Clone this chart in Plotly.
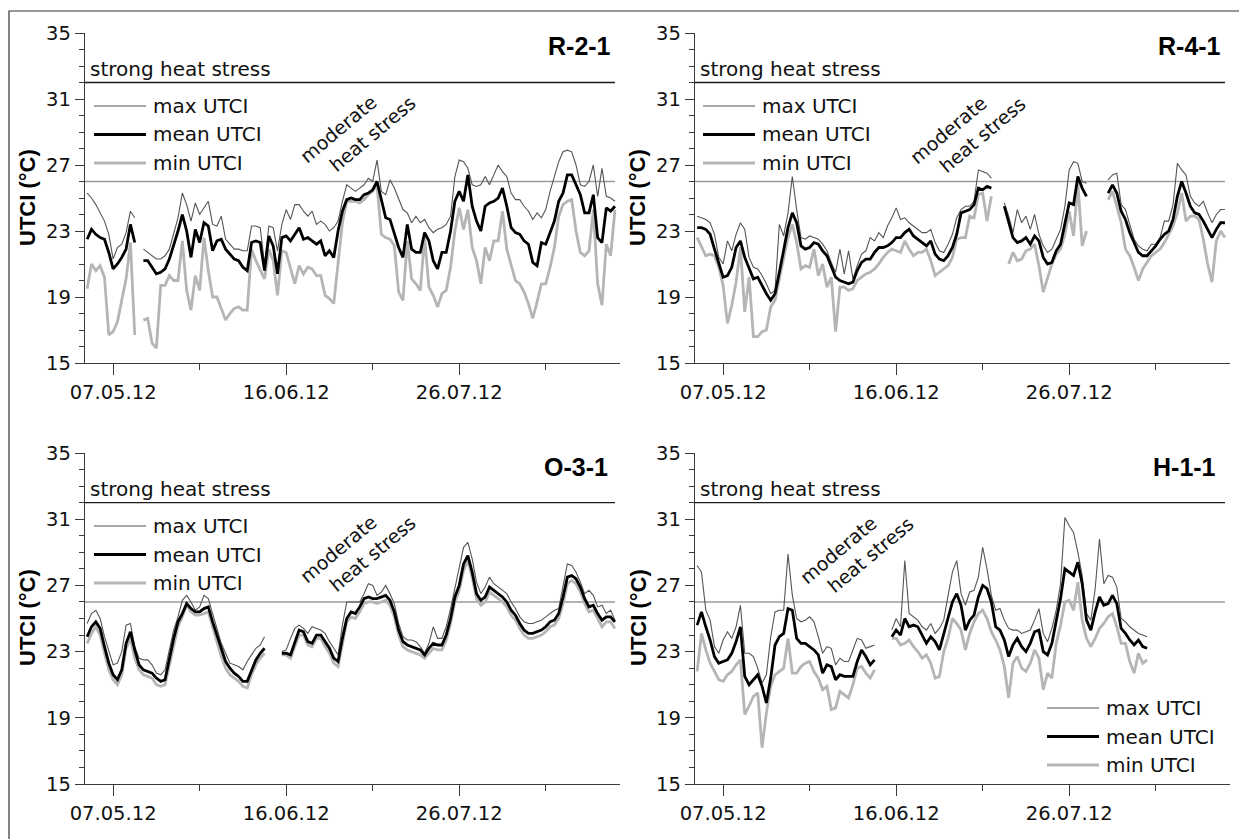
import plotly.graph_objects as go
import pandas as pd

# page body keeps an 8px margin, so the figure is sized to fit the 1247x839 window
OFF = 8
W, H = 1247 - OFF, 839 - OFF

# ---------------- data ----------------
DATES = pd.date_range("2012-05-01", "2012-08-31", freq="D")   # 123 daily values
X_RANGE = ["2012-04-30 12:00", "2012-09-01 04:00"]
MAJOR_TICKS = ["2012-05-07", "2012-06-16", "2012-07-26"]
MAJOR_LABELS = ["07.05.12", "16.06.12", "26.07.12"]
MINOR_TICKS = ["2012-05-27", "2012-07-06", "2012-08-15"]
Y_TICKS = [15, 19, 23, 27, 31, 35]
STRONG = 32      # strong heat stress threshold (°C)
MODERATE = 26    # moderate heat stress threshold (°C)
STATIONS = ["R-2-1", "R-4-1", "O-3-1", "H-1-1"]
N = None

r21_max = [25.3, 25.0, 24.6, 24.1, 23.6, 22.8, 21.3, 22.0, 22.2, 22.9,
           24.2, 23.8, N, 21.9, 21.7, 21.5, 21.3, 21.3, 21.5, 21.9,
           22.8, 23.8, 25.3, 24.6, 23.6, 24.7, 24.0, 24.4, 24.8, 23.4,
           23.3, 23.9, 22.5, 22.2, 21.9, 21.9, 21.8, 21.8, 23.3, 23.3,
           23.2, 21.0, 23.3, 23.2, 21.8, 23.4, 24.3, 23.7, 24.6, 24.6,
           24.2, 23.9, 24.2, 23.4, 23.6, 23.4, 23.0, 23.2, 23.6, 24.8,
           25.8, 25.6, 25.4, 25.6, 25.8, 26.2, 26.0, 27.3, 25.4, 25.2,
           26.1, 25.6, 24.9, 24.3, 24.1, 23.5, 23.9, 23.5, 23.7, 23.2,
           22.9, 23.1, 23.2, 23.4, 23.9, 26.3, 27.3, 27.2, 26.8, 25.8,
           25.7, 25.8, 26.3, 25.8, 26.4, 27.0, 26.6, 26.3, 25.3, 24.9,
           24.9, 24.5, 24.2, 23.7, 24.1, 23.8, 24.3, 25.4, 26.3, 27.2,
           27.8, 27.9, 27.8, 27.0, 25.8, 25.7, 26.0, 27.0, 25.1, 26.8,
           25.1, 25.0, 24.8]
r21_mean = [22.5, 23.1, 22.8, 22.6, 22.5, 21.7, 20.7, 21.0, 21.4, 21.9,
            23.4, 22.3, N, 21.2, 21.2, 20.8, 20.4, 20.5, 20.7, 21.3,
            22.1, 23.0, 24.0, 23.0, 21.4, 23.1, 22.3, 23.5, 23.3, 21.8,
            22.4, 22.5, 21.9, 21.6, 21.3, 21.2, 20.8, 20.6, 22.3, 22.4,
            22.3, 20.6, 22.7, 22.1, 20.4, 22.6, 22.7, 22.4, 22.8, 23.2,
            22.5, 22.6, 22.4, 22.2, 22.4, 21.5, 21.8, 21.4, 23.0, 24.2,
            24.9, 25.0, 24.9, 24.9, 25.2, 25.3, 25.5, 26.0, 24.9, 23.8,
            23.7, 22.8, 22.0, 21.4, 23.4, 21.9, 21.7, 21.7, 22.9, 22.4,
            21.2, 20.7, 21.7, 21.7, 23.0, 24.8, 25.4, 24.8, 26.4, 24.5,
            23.6, 23.0, 24.5, 24.7, 24.8, 25.0, 25.6, 24.5, 23.2, 22.9,
            22.8, 22.4, 22.2, 21.1, 20.9, 22.3, 22.2, 22.9, 23.6, 24.8,
            25.3, 26.4, 26.4, 25.8, 25.2, 24.1, 24.1, 25.2, 22.6, 22.3,
            24.4, 24.2, 24.5]
r21_min = [19.5, 21.0, 20.6, 20.9, 20.2, 16.7, 16.9, 17.5, 18.8, 20.1,
           22.3, 16.7, N, 17.6, 17.7, 16.2, 15.9, 19.7, 19.7, 20.3,
           20.0, 20.0, 22.4, 19.4, 18.2, 20.3, 19.4, 22.6, 20.6, 19.0,
           19.0, 18.3, 17.6, 18.0, 18.3, 18.4, 18.2, 18.2, 21.9, 21.2,
           20.6, 20.1, 21.9, 21.2, 19.1, 21.8, 21.7, 20.8, 19.8, 20.9,
           20.4, 20.8, 20.7, 20.3, 20.3, 19.1, 18.9, 18.6, 20.9, 23.5,
           24.8, 24.8, 24.8, 24.7, 24.9, 25.2, 25.4, 25.8, 22.8, 22.6,
           22.5, 22.1, 19.3, 18.8, 22.4, 20.1, 19.8, 19.4, 22.6, 19.6,
           19.1, 18.4, 19.2, 19.4, 20.8, 23.0, 24.4, 23.1, 24.3, 22.0,
           21.2, 19.8, 22.0, 21.2, 22.4, 22.4, 24.2, 21.9, 20.9, 20.0,
           19.8, 19.3, 18.6, 17.7, 18.7, 19.8, 19.8, 20.8, 22.0, 23.9,
           24.6, 24.8, 24.9, 23.0, 21.7, 21.5, 21.8, 24.3, 19.8, 18.5,
           22.2, 21.5, 24.3]

r41_max = [23.9, 23.8, 23.7, 23.5, 22.8, 21.4, 21.0, 22.4, 21.8, 22.8,
           23.5, 23.1, 21.4, 20.8, 20.7, 20.3, 19.8, 19.2, 19.4, 23.4,
           22.7, 24.1, 26.3, 24.3, 22.6, 22.5, 22.7, 22.6, 22.5, 22.2,
           21.8, 21.1, 20.5, 21.9, 20.4, 21.8, 20.1, 20.9, 21.6, 21.8,
           22.6, 22.4, 22.9, 22.6, 23.3, 23.8, 24.4, 23.7, 23.8, 23.5,
           23.3, 23.1, 22.9, 22.9, 23.1, 22.3, 21.8, 21.7, 22.2, 22.8,
           23.8, 24.3, 24.5, 24.5, 24.8, 26.7, 26.6, 26.5, 26.2, N,
           N, 24.7, 23.9, 22.9, 24.3, 23.5, 23.9, 23.1, 24.0, 22.8,
           22.1, 21.7, 21.9, 22.5, 23.1, 24.5, 26.7, 27.2, 27.1, 26.0,
           25.9, N, N, N, N, 26.1, 26.4, 26.5, 24.6, 24.3,
           23.4, 22.5, 22.1, 21.9, 21.8, 22.2, 22.2, 22.6, 23.6, 23.6,
           24.6, 27.1, 26.7, 26.4, 25.1, 24.7, 24.5, 24.8, 24.1, 23.5,
           24.0, 24.3, 24.3]
r41_mean = [23.2, 23.2, 23.1, 22.8, 21.9, 21.0, 20.2, 20.3, 20.8, 22.0,
            22.4, 21.4, 20.8, 20.1, 20.2, 19.7, 19.2, 18.8, 19.2, 20.5,
            21.8, 23.2, 24.1, 23.5, 22.1, 21.9, 22.0, 22.3, 22.2, 21.8,
            21.5, 20.8, 20.2, 20.0, 19.9, 19.8, 19.9, 20.6, 21.1, 21.3,
            21.3, 21.7, 22.0, 22.0, 22.1, 22.3, 22.6, 22.6, 22.9, 23.1,
            22.7, 22.5, 22.3, 22.1, 22.4, 21.6, 21.3, 21.2, 21.5, 22.0,
            22.8, 24.1, 24.2, 24.3, 24.6, 25.6, 25.5, 25.7, 25.6, N,
            N, 24.5, 23.5, 22.6, 22.3, 22.4, 22.6, 22.2, 22.7, 22.4,
            21.4, 21.0, 21.1, 21.8, 22.2, 23.4, 24.7, 24.6, 26.3, 25.6,
            25.1, N, N, N, N, 25.3, 25.8, 25.3, 24.2, 23.7,
            22.9, 22.3, 21.7, 21.5, 21.5, 21.8, 22.1, 22.5, 22.8, 23.0,
            23.7, 25.1, 26.0, 25.3, 24.5, 24.1, 24.0, 23.6, 23.1, 22.6,
            23.1, 23.5, 23.5]
r41_min = [22.6, 22.0, 21.5, 21.6, 21.5, 20.8, 19.7, 17.4, 18.5, 19.9,
           22.0, 18.1, 20.2, 16.6, 16.6, 16.9, 17.0, 18.4, 18.8, 20.1,
           21.4, 22.6, 23.4, 22.3, 20.7, 20.9, 20.8, 21.9, 20.3, 21.0,
           19.6, 20.2, 16.9, 19.6, 19.6, 19.4, 19.5, 20.0, 20.2, 20.4,
           20.5, 20.7, 21.0, 21.4, 21.7, 21.9, 21.8, 21.7, 22.4, 21.9,
           21.5, 21.7, 21.7, 21.9, 21.2, 20.3, 20.5, 20.7, 20.9, 21.4,
           22.5, 22.6, 22.6, 23.9, 23.8, 25.2, 25.3, 23.6, 25.1, N,
           N, N, 21.0, 21.7, 21.2, 21.3, 21.8, 21.9, 22.2, 20.9,
           19.3, 20.1, 21.0, 21.6, 21.9, 22.8, 24.2, 22.7, 25.9, 22.1,
           23.0, N, N, N, N, 24.9, 25.4, 24.5, 23.5, 21.9,
           21.5, 20.8, 20.0, 20.7, 21.1, 21.5, 21.7, 21.9, 22.3, 22.8,
           23.3, 24.1, 25.3, 23.6, 23.9, 23.9, 23.7, 22.5, 21.0, 19.9,
           22.4, 23.0, 22.6]

o31_max = [24.7, 25.3, 25.5, 25.0, 23.9, 23.0, 22.2, 22.3, 23.0, 24.6,
           24.7, 23.3, 22.6, 22.5, 22.5, 22.2, 21.7, 21.6, 21.9, 23.1,
           24.3, 25.1, 26.1, 26.4, 26.0, 25.5, 25.7, 26.4, 26.2, 25.3,
           24.4, 23.5, 22.9, 22.3, 22.2, 22.1, 21.9, 22.4, 22.8, 23.2,
           23.4, 23.9, N, N, N, 23.0, 23.1, 23.8, 24.4, 24.6,
           24.4, 24.1, 24.5, 24.4, 24.3, 24.1, 23.6, 23.2, 22.8, 24.6,
           26.0, 26.0, 26.0, 26.0, 26.5, 27.1, 27.0, 26.4, 26.6, 27.0,
           26.5, 25.9, 24.7, 23.9, 23.7, 23.7, 23.6, 23.3, 22.9, 23.5,
           24.5, 23.8, 23.8, 24.5, 25.6, 26.9, 28.1, 29.3, 29.6, 28.6,
           27.2, 26.5, 26.9, 27.5, 27.1, 26.9, 26.7, 26.5, 26.0, 25.6,
           25.1, 24.8, 24.7, 24.7, 24.8, 24.9, 25.1, 25.3, 25.5, 25.6,
           27.0, 28.3, 28.2, 27.8, 27.2, 26.5, 26.7, 26.4, 25.7, 25.8,
           25.3, 25.5, 24.9]
o31_mean = [23.9, 24.5, 24.8, 24.4, 23.3, 22.3, 21.6, 21.3, 21.9, 23.5,
            24.2, 23.1, 22.2, 21.9, 21.8, 21.7, 21.4, 21.2, 21.3, 22.6,
            23.8, 24.8, 25.3, 25.9, 25.6, 25.4, 25.4, 25.6, 25.7, 24.8,
            24.0, 23.1, 22.4, 22.0, 21.7, 21.5, 21.2, 21.2, 21.9, 22.5,
            22.9, 23.2, N, N, N, 22.9, 22.9, 22.8, 23.5, 24.3,
            24.2, 23.6, 23.5, 24.0, 24.0, 23.6, 23.2, 22.6, 22.4, 23.8,
            25.0, 25.4, 25.3, 25.7, 26.2, 26.3, 26.2, 26.2, 26.3, 26.4,
            26.1, 25.4, 24.3, 23.6, 23.4, 23.3, 23.2, 23.1, 22.8, 23.2,
            23.5, 23.4, 23.4, 24.0, 25.0, 26.3, 27.0, 28.3, 28.8, 27.8,
            26.5, 26.1, 26.3, 26.9, 26.7, 26.5, 26.3, 26.0, 25.5, 25.2,
            24.7, 24.3, 24.1, 24.1, 24.2, 24.3, 24.5, 24.8, 24.9, 25.3,
            26.3, 27.5, 27.6, 27.4, 26.9, 26.2, 25.7, 25.8, 25.3, 24.9,
            25.1, 25.1, 24.8]
o31_min = [23.5, 24.1, 24.5, 24.0, 22.9, 21.9, 21.3, 21.0, 21.6, 23.2,
           23.8, 22.6, 21.9, 21.6, 21.5, 21.4, 21.0, 20.9, 21.0, 22.2,
           23.5, 24.5, 25.1, 25.8, 25.4, 25.2, 25.2, 25.3, 25.4, 24.5,
           23.6, 22.7, 22.0, 21.6, 21.4, 21.2, 20.9, 20.8, 21.6, 22.2,
           22.6, 22.9, N, N, N, 22.8, 22.8, 22.6, 23.3, 24.0,
           24.0, 23.4, 23.3, 23.8, 23.8, 23.3, 22.9, 22.3, 22.1, 23.5,
           24.8, 25.1, 25.0, 25.4, 25.9, 26.0, 26.0, 25.9, 26.0, 26.1,
           25.8, 25.1, 24.0, 23.3, 23.1, 23.0, 22.9, 22.8, 22.6, 22.9,
           23.2, 23.1, 23.1, 23.7, 24.7, 26.0, 26.7, 27.9, 28.5, 27.5,
           26.2, 25.8, 26.0, 26.6, 26.4, 26.2, 26.0, 25.7, 25.2, 24.9,
           24.4, 24.0, 23.8, 23.8, 23.9, 24.0, 24.2, 24.5, 24.6, 25.0,
           25.9, 27.1, 27.3, 27.1, 26.6, 25.9, 25.4, 25.5, 25.0, 24.5,
           24.8, 24.8, 24.4]

h11_max = [28.2, 27.8, 25.5, 24.9, 23.3, 22.9, 23.7, 24.2, 23.8, 24.5,
           25.8, 22.9, 22.9, 22.7, 22.0, 21.1, 21.6, 23.9, 25.4, 25.5,
           25.5, 28.9, 26.4, 25.0, 24.8, 24.9, 25.1, 24.8, 23.9, 22.9,
           23.3, 23.2, 22.2, 22.6, 22.4, 22.4, 23.1, 23.8, 23.7, 23.2,
           23.3, 23.4, N, N, N, 24.3, 25.0, 24.5, 28.5, 25.3,
           25.1, 24.9, 24.5, 24.3, 24.7, 24.1, 24.4, 24.9, 26.4, 27.8,
           28.5, 26.5, 25.8, 26.6, 26.7, 27.5, 29.3, 28.0, 26.4, 25.5,
           25.6, 24.9, 24.4, 24.3, 24.3, 24.1, 24.2, 24.3, 24.9, 25.6,
           24.1, 23.6, 24.4, 25.5, 27.1, 31.1, 30.6, 30.2, 29.0, 27.6,
           25.3, 24.9, 26.8, 29.8, 27.1, 27.6, 27.5, 26.9, 25.0, 24.8,
           24.5, 24.3, 24.1, 24.0, 23.9] + [N] * 18
h11_mean = [24.6, 25.4, 24.5, 23.7, 22.7, 22.3, 22.4, 22.5, 22.9, 23.6,
            24.5, 21.5, 21.0, 21.3, 21.6, 20.9, 19.9, 21.4, 23.4, 23.9,
            24.1, 25.6, 25.5, 23.8, 23.5, 23.5, 23.3, 23.1, 22.8, 21.7,
            22.2, 22.1, 21.3, 21.6, 21.5, 21.5, 21.5, 22.4, 23.1, 22.7,
            22.2, 22.5, N, N, N, 23.9, 24.3, 24.0, 25.0, 24.5,
            24.6, 24.5, 24.0, 23.5, 23.9, 23.6, 23.1, 24.1, 25.1, 26.0,
            26.5, 25.8, 24.3, 24.9, 25.2, 26.3, 27.0, 26.8, 26.0, 24.5,
            24.3, 23.7, 22.7, 23.4, 23.8, 23.3, 23.0, 23.5, 24.2, 24.3,
            23.0, 22.8, 23.5, 24.9, 26.2, 28.0, 27.8, 27.6, 28.4, 27.1,
            24.9, 24.3, 25.4, 26.3, 25.8, 25.9, 26.4, 25.9, 24.4, 24.1,
            23.7, 23.4, 23.7, 23.3, 23.2] + [N] * 18
h11_min = [21.8, 24.1, 23.1, 22.3, 21.8, 21.3, 21.2, 21.6, 21.8, 22.2,
           22.5, 19.2, 19.7, 20.3, 20.5, 17.2, 19.3, 20.9, 21.6, 21.8,
           22.0, 23.8, 21.7, 21.7, 22.1, 22.3, 22.4, 21.8, 21.4, 20.7,
           20.9, 19.5, 19.6, 20.6, 20.4, 20.2, 21.0, 22.0, 22.1, 21.7,
           21.4, 21.9, N, N, N, 23.8, 23.8, 23.4, 23.5, 23.7,
           23.3, 23.0, 22.6, 22.8, 22.3, 21.4, 21.5, 23.0, 23.8, 25.0,
           24.7, 24.3, 23.1, 24.1, 24.8, 25.3, 25.5, 25.0, 24.2, 23.7,
           23.1, 22.1, 20.2, 22.3, 22.7, 22.0, 21.8, 22.3, 23.1, 22.6,
           20.7, 21.7, 21.4, 23.5, 24.6, 26.0, 26.1, 25.5, 27.2, 24.9,
           23.8, 23.3, 23.8, 24.4, 24.7, 25.1, 25.3, 24.5, 23.5, 23.5,
           22.4, 21.7, 22.9, 22.3, 22.5] + [N] * 18

SERIES = [
    (r21_max, r21_mean, r21_min),
    (r41_max, r41_mean, r41_min),
    (o31_max, o31_mean, o31_min),
    (h11_max, h11_mean, h11_min),
]

# ---------------- layout geometry (window pixels) ----------------
PANELS = [  # x0, x1, ytop, ybottom
    (85, 620, 33, 363),
    (695, 1230, 33, 363),
    (85, 620, 453, 784),
    (695, 1230, 453, 784),
]
TITLE_POS = [(613, 46), (1223, 46), (610, 467), (1218, 467)]
YTITLE_POS = [(27, 198), (637, 198), (27, 618), (638, 618)]
STRONG_TXT = [(88, 69), (698, 69), (88, 489), (698, 489)]
MOD_TXT = [((338, 129), (372, 134)), ((948, 130), (982, 135)),
           ((338, 549), (372, 554)), ((838, 550), (870, 555))]
LEGEND_POS = [(94, 106), (703, 106), (94, 526), (1047, 708)]  # sample start, first row y
LEG_ROW = [0, 28.5, 57]
LEG_LEN = 52

REG = "DejaVu Sans, Verdana, sans-serif"
BOLD = "Liberation Sans, Arial, sans-serif"
C_MAX, C_MEAN, C_MIN = "#555555", "#000000", "#b5b5b5"
W_MAX, W_MEAN, W_MIN = 1.1, 2.8, 2.8
AX = "#3a3a3a"


def px(x):
    return (x - OFF) / W


def py(y):
    return 1 - (y - OFF) / H


fig = go.Figure()
layout = dict(width=W, height=H, autosize=False,
              margin=dict(l=0, r=0, t=0, b=0, pad=0, autoexpand=False),
              paper_bgcolor="white", plot_bgcolor="white", showlegend=False)
shapes, annotations = [], []

for i, (x0, x1, yt, yb) in enumerate(PANELS):
    k = "" if i == 0 else str(i + 1)
    xa, ya = "x" + k, "y" + k
    layout["xaxis" + k] = dict(
        domain=[px(x0), px(x1)], anchor=ya, type="date", range=X_RANGE, automargin=False,
        tickmode="array", tickvals=MAJOR_TICKS, ticktext=MAJOR_LABELS,
        ticks="outside", ticklen=11, tickwidth=1.3, tickcolor=AX,
        showline=True, linecolor=AX, linewidth=1.3, showgrid=False, zeroline=False,
        tickfont=dict(family=REG, size=19.5, color="#111"),
        minor=dict(tickmode="array", tickvals=MINOR_TICKS, ticks="outside",
                   ticklen=6, tickwidth=1.3, tickcolor=AX, showgrid=False),
    )
    layout["yaxis" + k] = dict(
        domain=[py(yb), py(yt)], anchor=xa, range=[15, 35], automargin=False,
        tickmode="array", tickvals=Y_TICKS, ticks="outside", ticklen=9,
        tickwidth=1.3, tickcolor=AX, showline=True, linecolor=AX, linewidth=1.3,
        showgrid=False, zeroline=False,
        tickfont=dict(family=REG, size=19.5, color="#111"),
        minor=dict(tickmode="linear", tick0=15, dtick=1, ticks="outside",
                   ticklen=5, tickwidth=1.2, tickcolor=AX, showgrid=False),
    )
    mx, mn_, mi = SERIES[i]
    fig.add_trace(go.Scatter(x=DATES, y=mi, mode="lines", xaxis=xa, yaxis=ya,
                             line=dict(color=C_MIN, width=W_MIN), name="min UTCI"))
    fig.add_trace(go.Scatter(x=DATES, y=mx, mode="lines", xaxis=xa, yaxis=ya,
                             line=dict(color=C_MAX, width=W_MAX), name="max UTCI"))
    fig.add_trace(go.Scatter(x=DATES, y=mn_, mode="lines", xaxis=xa, yaxis=ya,
                             line=dict(color=C_MEAN, width=W_MEAN), name="mean UTCI"))

    # threshold lines
    shapes.append(dict(type="line", xref=xa, yref=ya, x0=X_RANGE[0], x1="2012-08-31",
                       y0=STRONG, y1=STRONG, line=dict(color="#1a1a1a", width=1.4),
                       layer="below"))
    shapes.append(dict(type="line", xref=xa, yref=ya, x0=X_RANGE[0], x1="2012-08-31",
                       y0=MODERATE, y1=MODERATE, line=dict(color="#9a9a9a", width=1.4),
                       layer="below"))

    # texts
    sx, sy = STRONG_TXT[i]
    annotations.append(dict(text="strong heat stress", xref="paper", yref="paper",
                            x=px(sx), y=py(sy), xanchor="left", yanchor="middle",
                            showarrow=False, font=dict(family=REG, size=20, color="#111")))
    for txt, (mx_, my_) in zip(["moderate", "heat stress"], MOD_TXT[i]):
        annotations.append(dict(text=txt, xref="paper", yref="paper", x=px(mx_), y=py(my_),
                                xanchor="center", yanchor="middle", textangle=-40,
                                showarrow=False, font=dict(family=REG, size=19, color="#111")))
    tx, ty = TITLE_POS[i]
    annotations.append(dict(text="<b>%s</b>" % STATIONS[i], xref="paper", yref="paper",
                            x=px(tx), y=py(ty), xanchor="right", yanchor="middle",
                            showarrow=False, font=dict(family=BOLD, size=25, color="#000")))
    yx, yy = YTITLE_POS[i]
    annotations.append(dict(text="<b>UTCI (°C)</b>", xref="paper", yref="paper",
                            x=px(yx), y=py(yy), xanchor="center", yanchor="middle",
                            textangle=-90, showarrow=False,
                            font=dict(family=BOLD, size=22, color="#000")))
    # legend
    lx, ly = LEGEND_POS[i]
    for (lab, col, wid), dy in zip([("max UTCI", C_MAX, W_MAX), ("mean UTCI", C_MEAN, W_MEAN),
                                    ("min UTCI", C_MIN, W_MIN)], LEG_ROW):
        shapes.append(dict(type="line", xref="paper", yref="paper",
                           x0=px(lx), x1=px(lx + LEG_LEN), y0=py(ly + dy), y1=py(ly + dy),
                           line=dict(color=col, width=wid)))
        annotations.append(dict(text=lab, xref="paper", yref="paper",
                                x=px(lx + LEG_LEN + 5), y=py(ly + dy), xanchor="left",
                                yanchor="middle", showarrow=False,
                                font=dict(family=REG, size=20, color="#111")))

# outer frame (right and bottom edges fall outside the window, as in the reference)
shapes.append(dict(type="rect", xref="paper", yref="paper", x0=px(9), x1=px(1252),
                   y0=py(846), y1=py(11), line=dict(color="#333", width=1.2)))

layout["shapes"] = shapes
layout["annotations"] = annotations
fig.update_layout(**layout)
fig.write_html("out.html")
